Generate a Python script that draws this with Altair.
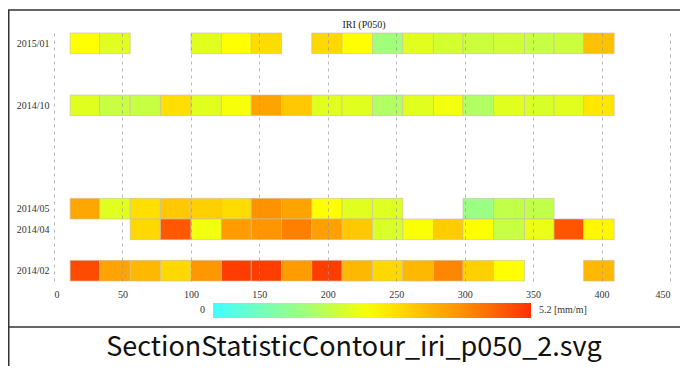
import altair as alt
import pandas as pd

# ---- data ----
periods = ["2015/01", "2014/10", "2014/05", "2014/04", "2014/02"]
# section boundaries along the route (x axis units)
bounds = [11.8, 33.4, 55.7, 77.8, 100.1, 122.3, 144.1, 166.2, 188.3, 210.4,
          232.7, 254.8, 277.2, 298.8, 321.1, 343.7, 365.3, 386.9, 409.2]
iri_2015_01 = [2.6, 2.25, None, None, 2.25, 2.6, 3.05, None, 3.1, 2.6,
               1.5, 2.25, 2.1, 2.0, 2.05, 1.95, 2.0, 3.4]
iri_2014_10 = [2.25, 1.95, 1.95, 3.0, 2.25, 2.5, 3.8, 3.3, 2.25, 2.25,
               1.7, 2.25, 2.45, 1.7, 2.25, 2.15, 2.25, 2.9]
iri_2014_05 = [3.75, 2.25, 3.0, 3.3, 3.2, 3.05, 4.05, 3.8, 2.6, 2.25,
               2.2, None, None, 1.4, 1.9, 1.9, None, None]
iri_2014_04 = [None, None, 3.1, 4.75, 2.45, 3.9, 4.0, 4.3, 3.85, 3.3,
               2.15, 2.55, 3.25, 2.6, 1.95, 2.35, 4.8, 2.7]
iri_2014_02 = [4.9, 3.8, 3.5, 3.1, 3.95, 5.05, 5.05, 3.9, 5.05, 3.5,
               3.1, 3.5, 4.2, 3.2, 2.6, None, None, 3.5]
series = [iri_2015_01, iri_2014_10, iri_2014_05, iri_2014_04, iri_2014_02]

x_ticks = [0, 50, 100, 150, 200, 250, 300, 350, 400, 450]
value_min, value_max = 0, 5.2
unit_label = "5.2 [mm/m]"
chart_title = "IRI (P050)"
caption = "SectionStatisticContour_iri_p050_2.svg"

# ---- table ----
rows = []
month_idx = {}
for p, vals in zip(periods, series):
    yr, mo = map(int, p.split("/"))
    mi = (yr - 2014) * 12 + mo - 2
    month_idx[p] = mi
    for k, v in enumerate(vals):
        if v is None:
            continue
        rows.append(dict(period=p, m0=mi - 0.5, m1=mi + 0.5,
                         x0=bounds[k], x1=bounds[k + 1], iri=v))
df = pd.DataFrame(rows)

label_expr = " : ".join(f"datum.value == {month_idx[p]} ? '{p}'" for p in periods) + " : ''"

color_domain = [0, 1.0, 1.6, 2.2, 2.6, 3.5, 4.3, 5.2]
color_range = ["#40FFFF", "#80FFA8", "#A8FF70", "#DDFF22", "#FFFF00",
               "#FFB800", "#FF8000", "#FF3000"]

SERIF = "Liberation Serif"
W, H = 616, 248

cells = alt.Chart(df).mark_rect(stroke="#c8c0a8", strokeWidth=0.8, strokeOpacity=0.8).encode(
    x=alt.X("x0:Q", scale=alt.Scale(domain=[0, 450], nice=False, zero=False),
            axis=alt.Axis(values=x_ticks, title=None, grid=True, gridDash=[3, 4],
                          gridColor="#999999", gridOpacity=0.7, gridWidth=1,
                          domain=False, ticks=False, labelPadding=8,
                          labelFont=SERIF, labelFontSize=10, labelColor="#333333",
                          zindex=1)),
    x2="x1:Q",
    y=alt.Y("m0:Q", scale=alt.Scale(domain=[-0.5, 11.5], nice=False, zero=False),
            axis=alt.Axis(values=[month_idx[p] for p in periods], labelExpr=label_expr,
                          title=None, grid=False, domain=False, ticks=False,
                          labelPadding=5, labelFont=SERIF, labelFontSize=10,
                          labelColor="#333333")),
    y2="m1:Q",
    color=alt.Color("iri:Q",
                    scale=alt.Scale(domain=color_domain, range=color_range, interpolate="rgb"),
                    legend=alt.Legend(orient="none", legendX=159, legendY=270,
                                      direction="horizontal", gradientLength=318,
                                      gradientThickness=15, labelExpr="''",
                                      labelOpacity=0, title=None,
                                      padding=0, gradientStrokeWidth=0)),
)

one = pd.DataFrame({"k": [0]})
title_txt = alt.Chart(one).mark_text(align="center", baseline="alphabetic", font=SERIF,
                                     fontSize=10, color="#222222").encode(
    x=alt.value(310), y=alt.value(-5), text=alt.value(chart_title))
lbl_min = alt.Chart(one).mark_text(align="right", baseline="middle", font=SERIF,
                                   fontSize=10, color="#333333").encode(
    x=alt.value(151), y=alt.value(277), text=alt.value(str(value_min)))
lbl_max = alt.Chart(one).mark_text(align="left", baseline="middle", font=SERIF,
                                   fontSize=10, color="#333333").encode(
    x=alt.value(485), y=alt.value(277), text=alt.value(unit_label))

frame_top = alt.Chart(one).mark_rule(color="#333333", strokeWidth=1.5).encode(
    x=alt.value(-46), x2=alt.value(626), y=alt.value(-23))
frame_left = alt.Chart(one).mark_rule(color="#333333", strokeWidth=1.5).encode(
    x=alt.value(-45.25), y=alt.value(-23), y2=alt.value(333))
frame_sep = alt.Chart(one).mark_rule(color="#333333", strokeWidth=1.5).encode(
    x=alt.value(-46), x2=alt.value(626), y=alt.value(294))
cap = alt.Chart(one).mark_text(align="center", baseline="alphabetic",
                               font="Noto Sans CJK JP", fontSize=27, color="#111111").encode(
    x=alt.value(300), y=alt.value(323), text=alt.value(caption))

chart = alt.layer(cells, title_txt, lbl_min, lbl_max, frame_top, frame_left, frame_sep, cap).properties(
    width=W, height=H,
    autosize=alt.AutoSizeParams(type="none"),
    padding={"left": 46, "top": 25, "right": 10, "bottom": 85},
    background="white",
).configure_view(stroke=None)

chart.save("out.html", embed_options={"renderer": "svg", "actions": False})
